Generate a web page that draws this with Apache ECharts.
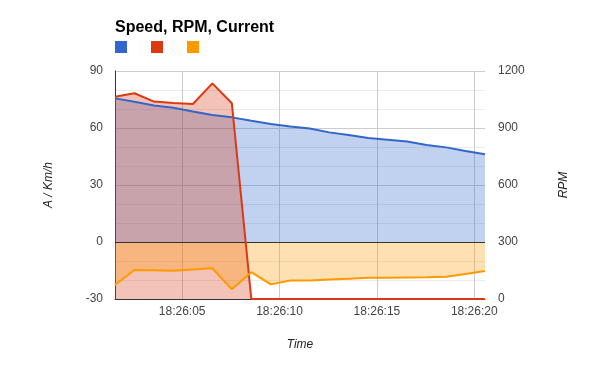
<!DOCTYPE html>
<html>
<head>
<meta charset="utf-8">
<script src="https://cdn.jsdelivr.net/npm/echarts@6/dist/echarts.min.js"></script>
<style>
html,body{margin:0;padding:0;background:#fff;}
#c{width:600px;height:371px;}
</style>
</head>
<body>
<div id="c"></div>
<script>
// seconds after 18:26:00
var times = [1.55,2.55,3.55,4.55,5.55,6.55,7.55,8.55,9.55,10.55,11.55,12.55,13.55,14.55,15.55,16.55,17.55,18.55,19.55,20.55];
var speed = [75.6,73.8,71.8,70.7,68.7,66.8,65.6,63.8,62.1,60.8,59.7,57.7,56.3,54.7,53.8,52.9,51.1,49.8,47.9,46.2];
var rpm = [1065,1083,1039,1032,1026,1135,1030,0,0,0,0,0,0,0,0,0,0,0,0,0];
var current = [-22.6,-14.7,-14.9,-15.1,-14.5,-13.8,-24.9,-15.9,-22.3,-20.3,-20.3,-19.8,-19.3,-18.8,-18.8,-18.7,-18.6,-18.3,-16.8,-15.3];
var xTicks = [5,10,15,20];
var xTickLabels = ['18:26:05','18:26:10','18:26:15','18:26:20'];
var seriesNames = ['Speed','RPM','Current'];
var colors = ['#3366cc','#dc3912','#ff9900'];
var fills = ['rgba(51,102,204,0.3)','rgba(220,57,18,0.3)','rgba(255,153,0,0.3)'];

function pairs(vals){ return times.map(function(t,i){ return [t, vals[i]]; }); }
var dataSets = [speed, rpm, current];
var axisIdx = [0,1,0];
var FONT = 'Arial, "Liberation Sans", sans-serif';

var series = [];
for (var i=0;i<3;i++){
  var s = {
    name: seriesNames[i], type:'line', yAxisIndex: axisIdx[i], data: pairs(dataSets[i]),
    symbol:'none', color: colors[i], lineStyle:{width:0}, areaStyle:{color: fills[i], opacity:1},
    z: 2, silent:true
  };
  if (i===0){
    s.markLine = {silent:true, symbol:'none', label:{show:false}, lineStyle:{color:'#333', width:1, type:'solid'}, data:[{yAxis:0}], z:3};
  }
  series.push(s);
}
for (var j=0;j<3;j++){
  series.push({
    name: seriesNames[j], type:'line', yAxisIndex: axisIdx[j], data: pairs(dataSets[j]),
    symbol:'none', color: colors[j], lineStyle:{width:2, color: colors[j]}, z: 4, silent:true
  });
}

var chart = echarts.init(document.getElementById('c'), null, {renderer:'canvas'});
chart.setOption({
  animation:false,
  backgroundColor:'#fff',
  title:{text:'Speed, RPM, Current', left:110, top:15, textStyle:{fontFamily:FONT, fontSize:16, fontWeight:'bold', color:'#000'}},
  legend:{left:110, top:36, itemWidth:12, itemHeight:12, itemGap:24, icon:'rect', data:seriesNames,
    formatter:function(){return '';}, textStyle:{fontSize:1}},
  grid:{left:115, right:115, top:71, bottom:72, containLabel:false},
  xAxis:{type:'value', min:times[0], max:times[times.length-1],
    name:'Time', nameLocation:'middle', nameGap:40,
    nameTextStyle:{fontFamily:FONT, fontSize:12, fontStyle:'italic', color:'#222'},
    axisLine:{show:true, onZero:false, lineStyle:{color:'#333', width:1}},
    axisTick:{show:false, customValues:xTicks},
    axisLabel:{customValues:xTicks, margin:7, fontFamily:FONT, fontSize:12, color:'#444',
      formatter:function(v){ var k = xTicks.indexOf(v); return k>=0 ? xTickLabels[k] : ''; }},
    splitLine:{show:true, lineStyle:{color:'#cccccc', width:1}}
  },
  yAxis:[
    {type:'value', min:-30, max:90, interval:30, position:'left',
      name:'A / Km/h', nameLocation:'middle', nameGap:60, nameRotate:90,
      nameTextStyle:{fontFamily:FONT, fontSize:12, fontStyle:'italic', color:'#222'},
      axisLine:{show:true, onZero:false, lineStyle:{color:'#333', width:1}},
      axisTick:{show:false},
      axisLabel:{margin:12, fontFamily:FONT, fontSize:12, color:'#444'},
      splitLine:{show:true, lineStyle:{color:'#cccccc', width:1}},
      minorTick:{show:false, splitNumber:3},
      minorSplitLine:{show:true, lineStyle:{color:'#ebebeb', width:1}}
    },
    {type:'value', min:0, max:1200, interval:300, position:'right',
      name:'RPM', nameLocation:'middle', nameGap:73, nameRotate:90,
      nameTextStyle:{fontFamily:FONT, fontSize:12, fontStyle:'italic', color:'#222'},
      axisLine:{show:false}, axisTick:{show:false},
      axisLabel:{margin:13, fontFamily:FONT, fontSize:12, color:'#444',
        formatter:function(v){ return String(v); }},
      splitLine:{show:false}
    }
  ],
  series: series
});
</script>
</body>
</html>
